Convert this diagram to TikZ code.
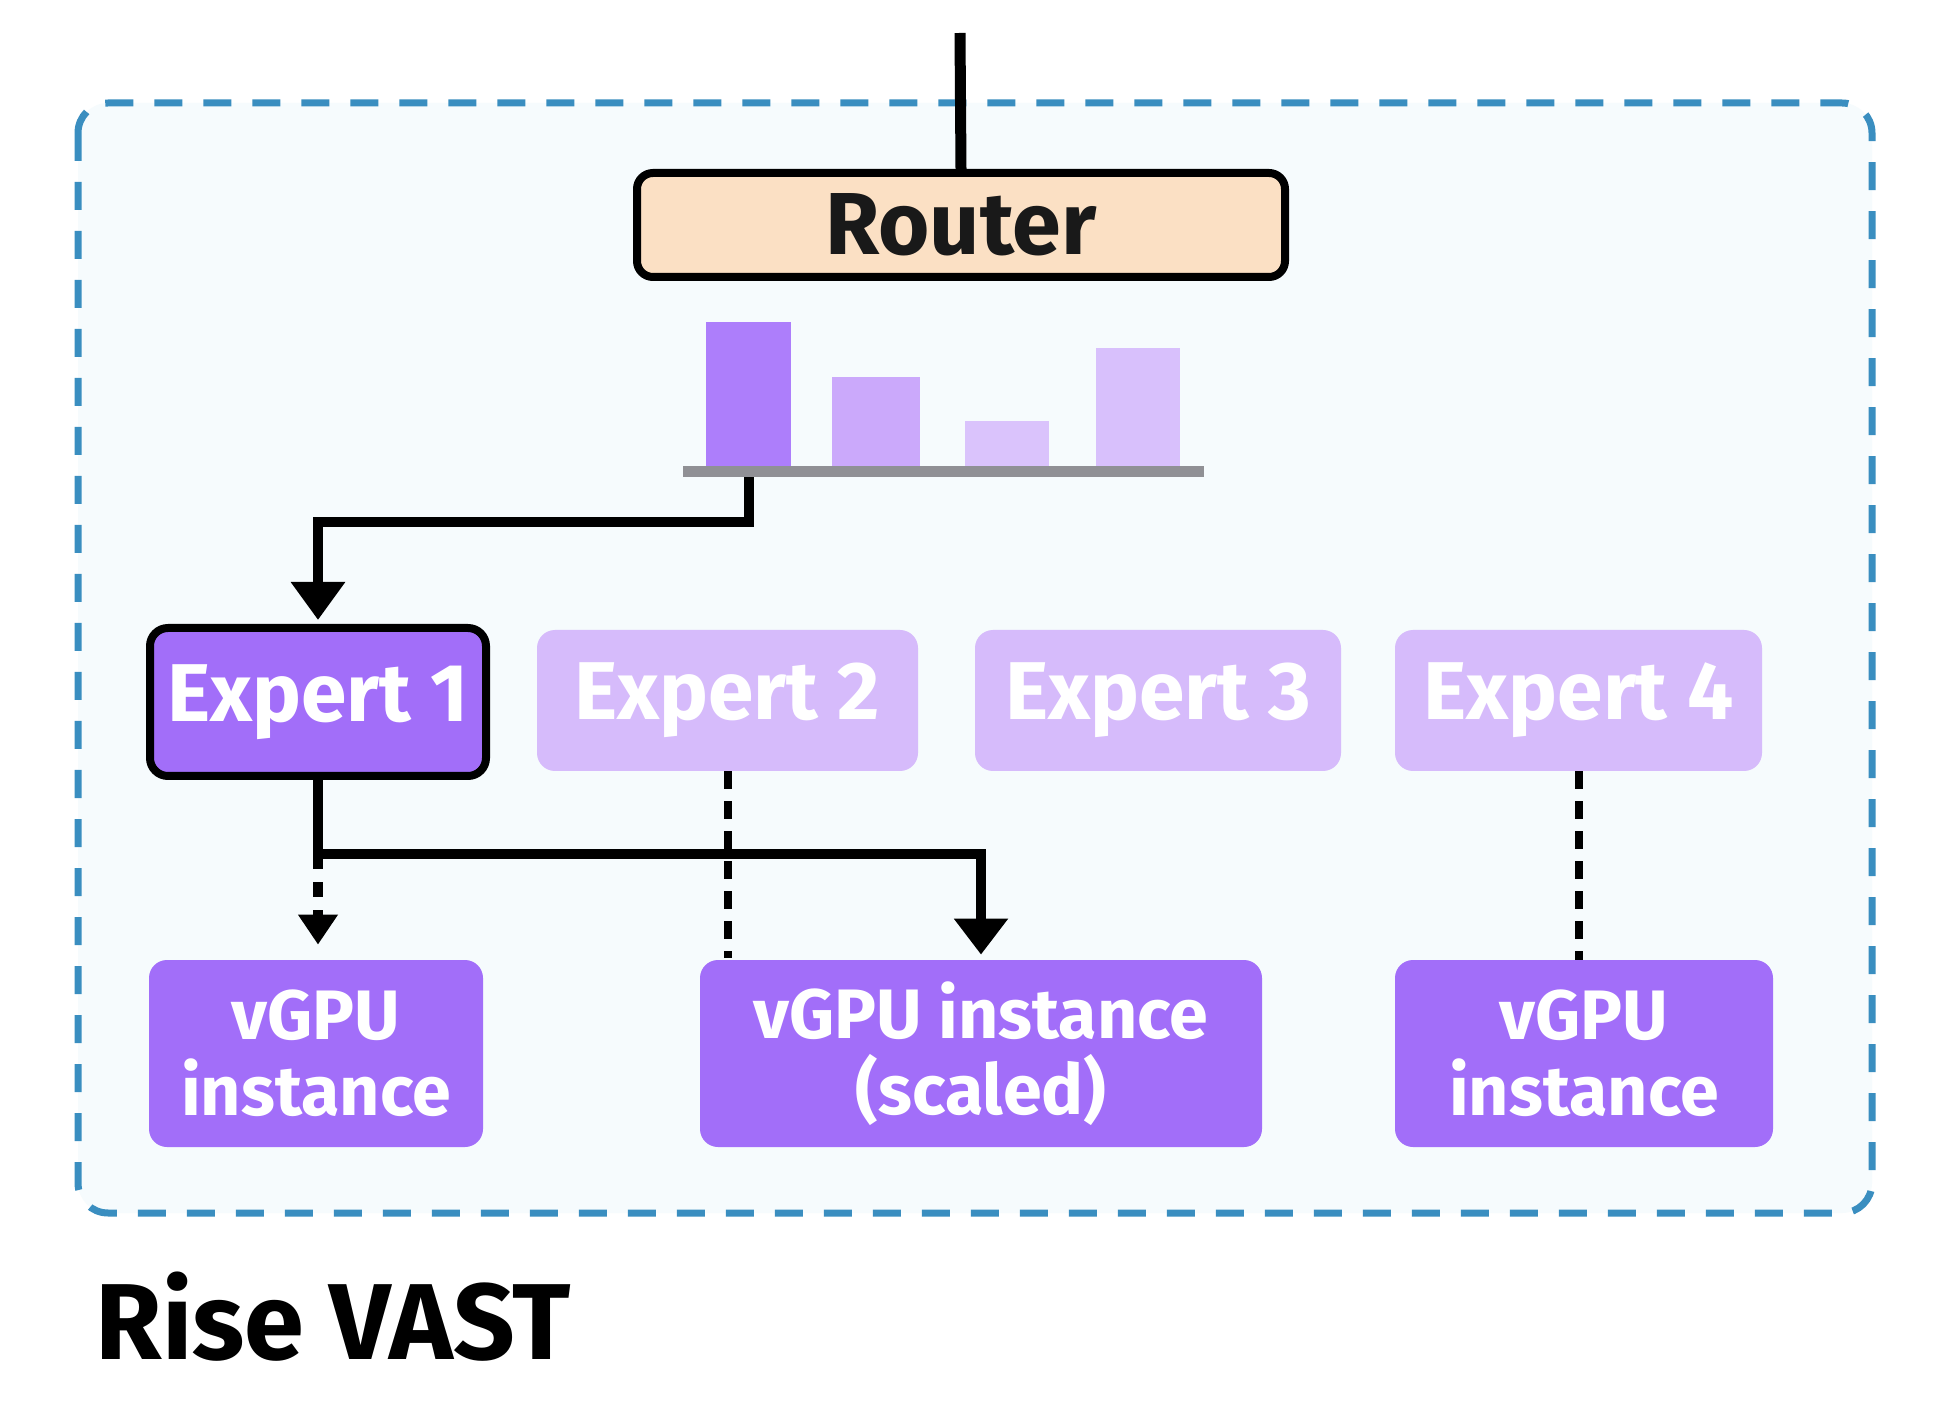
\documentclass[tikz,border=0pt]{standalone}
\usepackage{fontspec}
\setmainfont{Fira Sans}
\usetikzlibrary{arrows.meta}
\definecolor{framecol}{HTML}{3A8EC0}
\definecolor{framebg}{HTML}{F6FBFD}
\definecolor{routerfill}{HTML}{FBE0C4}
\definecolor{purpdark}{HTML}{A26EF9}
\definecolor{purplight}{HTML}{D6BBFB}
\definecolor{barA}{HTML}{AD7EFB}
\definecolor{barB}{HTML}{CBA9FB}
\definecolor{barC}{HTML}{DAC3FC}
\definecolor{barD}{HTML}{D8C0FC}
\definecolor{axisgray}{HTML}{909095}
\begin{document}
\begin{tikzpicture}[x=0.5pt,y=-0.5pt,
  routerbox/.style={draw=black, line width=4pt, fill=routerfill, rounded corners=8pt,
    inner sep=0pt, minimum width=324pt, minimum height=52pt,
    font=\bfseries\fontsize{44}{50}\selectfont, text=black!90},
  expbox/.style={rounded corners=9pt, inner sep=0pt, minimum height=70.5pt,
    font=\bfseries\fontsize{41}{44}\selectfont, text=white},
  expon/.style={expbox, draw=black, line width=4pt, fill=purpdark, minimum height=74pt},
  expoff/.style={expbox, fill=purplight},
  gpubox/.style={rounded corners=9pt, inner sep=0pt, fill=purpdark, minimum height=93.5pt,
    align=center, font=\bfseries\fontsize{35}{38}\selectfont, text=white},
  barbox/.style={inner sep=0pt},
  link/.style={line width=5pt, black},
  dashlink/.style={line width=4pt, black, dash pattern=on 9pt off 6pt},
]
\useasboundingbox (0,0) rectangle (1950,1406);
\fill[white] (0,0) rectangle (1950,1406);
% frame
\draw[framecol, fill=framebg, line width=3.5pt, dash pattern=on 14pt off 10.5pt, rounded corners=15pt]
  (78,103) rectangle (1872,1213);

% router
\node[routerbox] (router) at (961,225) {Router};
\coordinate (top) at (960,33);
\draw[link, line width=5.5pt] (top) -- (router.north);

% bars
\node[barbox, fill=axisgray, minimum width=260.5pt, minimum height=5.5pt] (axis) at (943.5,471.5) {};
\node[barbox, fill=barA, minimum width=42.5pt, minimum height=72pt] (b1) at (748.5,394) {};
\node[barbox, fill=barB, minimum width=44pt, minimum height=44.5pt] (b2) at (876,421.5) {};
\node[barbox, fill=barC, minimum width=42pt, minimum height=22.5pt] (b3) at (1007,443.5) {};
\node[barbox, fill=barD, minimum width=42pt, minimum height=59pt] (b4) at (1138,407) {};

% experts
\node[expon, minimum width=168pt] (e1) at (318,702) {Expert 1};
\node[expoff, minimum width=190.5pt] (e2) at (727.5,700.5) {Expert 2};
\node[expoff, minimum width=183pt] (e3) at (1158,700.5) {Expert 3};
\node[expoff, minimum width=183.5pt] (e4) at (1578.5,700.5) {Expert 4};

% vGPU instances
\node[gpubox, minimum width=167pt] (g1) at (316,1053.5) {vGPU\\instance};
\node[gpubox, minimum width=281pt] (g2) at (981,1053.5) {vGPU instance\\(scaled)};
\node[gpubox, minimum width=189pt] (g3) at (1584,1053.5) {vGPU\\instance};

% router choice -> expert 1
\draw[link, -{Triangle[width=26pt,length=19pt]}, shorten >=2pt]
  (axis.south -| b1.south) -- (b1.south |- 0,522) -| (e1.north);

% expert 1 -> scaled instance
\coordinate (j) at (318,854);
\draw[dashlink, shorten >=1pt] (e2.south) -- (e2.south |- g2.north) ;
\draw[dashlink] (e4.south) -- (e4.south |- g3.north);
\draw[link, -{Triangle[width=26pt,length=18pt]}, shorten >=2.5pt]
  (e1.south) -- (j) -| (g2.north);
\draw[line width=5pt, black, dash pattern=on 7.5pt off 6.5pt, -{Triangle[width=19pt,length=15pt]}, shorten >=7.5pt]
  (j) -- (j |- g1.north);

% title
\node[anchor=base west, inner sep=0pt, font=\bfseries\fontsize{54}{60}\selectfont] (title) at (95,1359) {Rise VAST};
\end{tikzpicture}
\end{document}
